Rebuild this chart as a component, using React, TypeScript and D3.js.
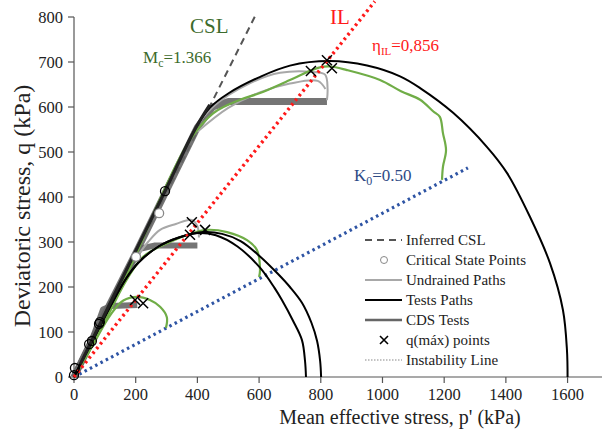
import React from "react";
import * as d3 from "d3";

const xTicks = [0, 200, 400, 600, 800, 1000, 1200, 1400, 1600];
const yTicks = [0, 100, 200, 300, 400, 500, 600, 700, 800];

const Mc = 1.366;
const cslP = [0, 586];
const etaIL = 0.856;
const ilP = [0, 975];
const k0Slope = 0.364;
const k0P = [0, 1277];

type P = [number, number];

const testBig: P[] = [[0,0],[100,140],[200,280],[300,420],[390,548],[440,598],[500,630],[600,666],[700,692],[830,702],[950,692],[1057,668],[1122,642],[1229,587],[1339,511],[1404,453],[1478,356],[1543,253],[1585,149],[1598,60],[1600,0]];
const testMid1: P[] = [[0,0],[60,80],[120,160],[170,220],[210,255],[274,290],[340,310],[402,320],[460,315],[530,290],[603,243],[650,198],[674,171],[710,125],[739,82],[749,35],[752,0]];
const testMid2: P[] = [[0,0],[60,80],[120,160],[170,220],[210,255],[274,290],[340,310],[420,322],[480,318],[540,302],[603,268],[660,230],[700,200],[739,165],[770,120],[788,80],[798,35],[801,0]];
const testNoisy: P[] = [[20,28],[100,140],[200,280],[300,420],[390,548],[440,605]];

const green1: P[] = [[0,0],[50,60],[100,125],[200,270],[288,409],[376,527],[451,586],[538,616],[603,631],[700,660],[791,687],[830,690],[885,682],[992,660],[1060,635],[1122,616],[1165,590],[1186,578],[1196,542],[1206,504],[1196,467],[1193,438]];
const green2: P[] = [[0,0],[60,70],[120,150],[170,215],[224,267],[311,300],[386,320],[431,327],[496,322],[561,304],[593,282],[603,238],[600,222]];
const green3: P[] = [[0,0],[60,70],[120,140],[160,170],[204,178],[246,171],[279,156],[301,133],[298,109]];

const cds1: P[] = [[0,0],[100,140],[200,275],[300,415],[400,555],[450,600],[500,612],[820,612]];
const cds2: P[] = [[0,0],[100,140],[170,230],[214,285],[260,292],[400,292]];
const cds3: P[] = [[0,0],[60,85],[94,150],[120,158],[205,160]];

const undr1: P[] = [[380,540],[450,600],[571,653],[668,676],[775,678],[814,672],[822,640],[820,615]];
const undr2: P[] = [[400,545],[500,598],[600,632],[700,652],[790,658],[815,640]];
const undr3: P[] = [[204,267],[240,300],[279,327],[330,340],[382,349],[400,335],[405,310]];

const csBlack: P[] = [[295,413],[84,122],[81,118],[58,80],[49,73],[3,20],[0,4]];
const csGray: P[] = [[276,364],[201,267]];

const qMax: P[] = [[820,704],[768,680],[836,686],[382,344],[376,316],[425,327],[198,171],[224,164]];

const legendItems = ["Inferred CSL", "Critical State Points", "Undrained Paths", "Tests Paths", "CDS Tests", "q(máx) points", "Instability Line"];

const x = d3.scaleLinear().domain([0, 1710]).range([74, 601.5]);
const y = d3.scaleLinear().domain([0, 800]).range([377, 17]);

const line = d3.line<P>().x(d => x(d[0])).y(d => y(d[1])).curve(d3.curveCatmullRom.alpha(0.5));
const straight = d3.line<P>().x(d => x(d[0])).y(d => y(d[1]));

const serif = "'Liberation Serif', 'Times New Roman', serif";

export default function App() {
  const green = "#70ad47";
  const dark = "#666666";
  const light = "#a8a8a8";
  return (
    <svg width={602} height={435} style={{ position: "absolute", left: 0, top: 0, background: "#fff" }} fontFamily={serif}>
      {/* axes */}
      <line x1={x(0)} x2={x(0)} y1={y(800)} y2={y(0)} stroke="#555" strokeWidth={1.2} />
      <line x1={x(0)} x2={602} y1={y(0)} y2={y(0)} stroke="#555" strokeWidth={1.2} />
      {yTicks.map(t => (
        <g key={"y" + t}>
          <line x1={x(0) - 6} x2={x(0)} y1={y(t)} y2={y(t)} stroke="#555" strokeWidth={1.2} />
          <text x={x(0) - 11} y={y(t)} dy="0.35em" textAnchor="end" fontSize={16.5} fill="#222">{t}</text>
        </g>
      ))}
      {xTicks.map(t => (
        <g key={"x" + t}>
          <line x1={x(t)} x2={x(t)} y1={y(0)} y2={y(0) + 6} stroke="#555" strokeWidth={1.2} />
          <text x={x(t)} y={y(0) + 23} textAnchor="middle" fontSize={16.5} fill="#222">{t}</text>
        </g>
      ))}
      <text x={400} y={424} textAnchor="middle" fontSize={20} fill="#222">Mean effective stress, p' (kPa)</text>
      <text transform={`translate(30,206) rotate(-90)`} textAnchor="middle" fontSize={24} fill="#222">Deviatoric stress, q (kPa)</text>

      {/* reference lines */}
      <path d={straight(cslP.map(p => [p, Mc * p] as P)) || ""} fill="none" stroke="#555" strokeWidth={2} strokeDasharray="7,5" />
      <path d={straight(k0P.map(p => [p, k0Slope * p] as P)) || ""} fill="none" stroke="#2e54a4" strokeWidth={3.2} strokeDasharray="2.5,3.5" />

      {/* CDS tests */}
      {[cds1, cds2, cds3].map((d, i) => (
        <path key={"c" + i} d={straight(d) || ""} fill="none" stroke={dark} strokeWidth={i === 0 ? 7 : 6} strokeLinejoin="round" opacity={0.9} />
      ))}
      {/* undrained */}
      {[undr1, undr2, undr3].map((d, i) => (
        <path key={"u" + i} d={line(d) || ""} fill="none" stroke={light} strokeWidth={2} />
      ))}
      {/* green */}
      {[green1, green2, green3].map((d, i) => (
        <path key={"g" + i} d={line(d) || ""} fill="none" stroke={green} strokeWidth={2.2} />
      ))}
      {/* tests paths */}
      {[testBig, testMid1, testMid2].map((d, i) => (
        <path key={"t" + i} d={line(d) || ""} fill="none" stroke="#000" strokeWidth={2} />
      ))}
      <path d={line(testNoisy) || ""} fill="none" stroke="#222" strokeWidth={3.2} />

      <path d={straight(ilP.map(p => [p, etaIL * p] as P)) || ""} fill="none" stroke="#ff1a1a" strokeWidth={3.4} strokeDasharray="2.5,3.5" />

      {csBlack.map((d, i) => (
        <circle key={"cb" + i} cx={x(d[0])} cy={y(d[1])} r={4.5} fill="none" stroke="#000" strokeWidth={1.3} />
      ))}
      {csGray.map((d, i) => (
        <circle key={"cg" + i} cx={x(d[0])} cy={y(d[1])} r={4.5} fill="#fff" stroke="#888" strokeWidth={1.3} />
      ))}
      {qMax.map((d, i) => (
        <path key={"q" + i} d={`M${x(d[0]) - 5},${y(d[1]) - 5}L${x(d[0]) + 5},${y(d[1]) + 5}M${x(d[0]) - 5},${y(d[1]) + 5}L${x(d[0]) + 5},${y(d[1]) - 5}`} stroke="#000" strokeWidth={1.5} />
      ))}

      {/* annotations */}
      <text x={190} y={33} fontSize={21} fill="#3d6b2c">CSL</text>
      <text x={143} y={63} fontSize={17} fill="#3d6b2c">M<tspan fontSize={12} dy={4}>c</tspan><tspan dy={-4}>=1.366</tspan></text>
      <text x={330} y={24} fontSize={21} fill="#ff1a1a">IL</text>
      <text x={372} y={51} fontSize={17} fill="#ff1a1a">η<tspan fontSize={11} dy={4}>IL</tspan><tspan dy={-4}>=0,856</tspan></text>
      <text x={354} y={181} fontSize={17} fill="#2e4a86">K<tspan fontSize={12} dy={4}>0</tspan><tspan dy={-4}>=0.50</tspan></text>

      {/* legend */}
      {legendItems.map((t, i) => {
        const cy = 240 + i * 20;
        let sym: React.ReactNode = null;
        if (i === 0) sym = <line x1={365} x2={402} y1={cy} y2={cy} stroke="#555" strokeWidth={2} strokeDasharray="7,5" />;
        if (i === 1) sym = <circle cx={384} cy={cy} r={3.5} fill="#fff" stroke="#888" strokeWidth={1} />;
        if (i === 2) sym = <line x1={365} x2={402} y1={cy} y2={cy} stroke={light} strokeWidth={2} />;
        if (i === 3) sym = <line x1={365} x2={402} y1={cy} y2={cy} stroke="#000" strokeWidth={2.2} />;
        if (i === 4) sym = <line x1={365} x2={402} y1={cy} y2={cy} stroke={dark} strokeWidth={2.5} />;
        if (i === 5) sym = <path d={`M380,${cy - 4}L388,${cy + 4}M380,${cy + 4}L388,${cy - 4}`} stroke="#000" strokeWidth={1.6} />;
        if (i === 6) sym = <line x1={365} x2={402} y1={cy} y2={cy} stroke="#888" strokeWidth={1.2} strokeDasharray="1.5,1.5" />;
        return (
          <g key={"l" + i}>
            {sym}
            <text x={406} y={cy} dy="0.33em" fontSize={15} fill="#222">{t}</text>
          </g>
        );
      })}
    </svg>
  );
}
